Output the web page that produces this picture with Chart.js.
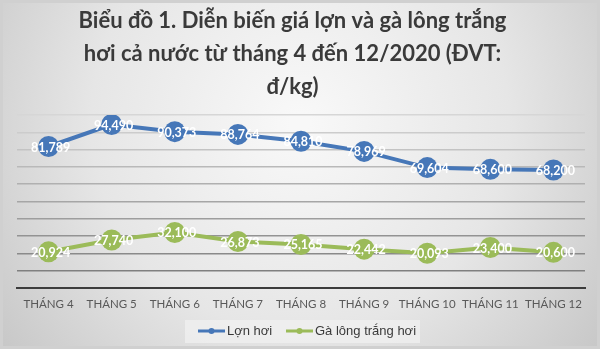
<!DOCTYPE html>
<html>
<head>
<meta charset="utf-8">
<script src="https://cdn.jsdelivr.net/npm/chart.js@4"></script>
<style>
  html, body { margin: 0; padding: 0; background: #ffffff; }
  #wrap { width: 600px; height: 349px; position: relative; }
</style>
</head>
<body>
<div id="wrap"><canvas id="c" width="600" height="349"></canvas></div>
<script>
// Monthly categories
const months = ["THÁNG 4", "THÁNG 5", "THÁNG 6", "THÁNG 7", "THÁNG 8", "THÁNG 9", "THÁNG 10", "THÁNG 11", "THÁNG 12"];
// Live pig price (đ/kg)
const pigPrices = [81789, 94490, 90373, 88764, 84810, 78969, 69604, 68600, 68200];
// Live white-feather chicken price (đ/kg)
const chickenPrices = [20924, 27740, 32100, 26873, 25165, 22442, 20093, 23400, 20600];
const seriesNames = ["Lợn hơi", "Gà lông trắng hơi"];
const titleLines = ["Biểu đồ 1. Diễn biến giá lợn và gà lông trắng", "hơi cả nước từ tháng 4 đến 12/2020 (ĐVT:", "đ/kg)"];

const BLUE = "#4677b8";
const GREEN = "#9bbb59";

// Gradient backdrop with a thin frame
const backdrop = {
  id: "backdrop",
  beforeDraw(chart) {
    const ctx = chart.ctx, w = chart.width, h = chart.height;
    ctx.save();
    const g = ctx.createRadialGradient(w * 0.5, h * 0.35, 10, w * 0.5, h * 0.35, w * 0.62);
    g.addColorStop(0, "#f8f8f8");
    g.addColorStop(0.55, "#e6e6e6");
    g.addColorStop(1, "#c8c8c8");
    ctx.fillStyle = g;
    ctx.fillRect(0, 0, w, h);
    ctx.strokeStyle = "#d0d0d0";
    ctx.lineWidth = 3;
    ctx.strokeRect(1.5, 1.5, w - 3, h - 3);
    ctx.restore();
  }
};

// White value labels centred on each marker
const valueLabels = {
  id: "valueLabels",
  afterDatasetsDraw(chart) {
    const ctx = chart.ctx;
    ctx.save();
    ctx.font = "bold 12.5px Lato";
    ctx.fillStyle = "#ffffff";
    ctx.textAlign = "center";
    ctx.textBaseline = "middle";
    chart.data.datasets.forEach((ds, di) => {
      const meta = chart.getDatasetMeta(di);
      meta.data.forEach((pt, i) => {
        ctx.fillText(ds.data[i].toLocaleString("en-US"), pt.x + 2, pt.y + 1);
      });
    });
    ctx.restore();
  }
};

// Legend strip under the axis: line-with-marker swatches
const lineLegend = {
  id: "lineLegend",
  afterDraw(chart) {
    const ctx = chart.ctx;
    ctx.save();
    ctx.fillStyle = "rgba(240,240,240,0.75)";
    ctx.fillRect(185, 320, 235, 23);
    ctx.font = "13px 'Liberation Sans'";
    ctx.textBaseline = "middle";
    const items = [
      { x: 198, color: BLUE, text: seriesNames[0] },
      { x: 286, color: GREEN, text: seriesNames[1] }
    ];
    const y = 331;
    items.forEach(it => {
      ctx.strokeStyle = it.color;
      ctx.lineWidth = 3;
      ctx.beginPath();
      ctx.moveTo(it.x, y);
      ctx.lineTo(it.x + 27, y);
      ctx.stroke();
      ctx.fillStyle = it.color;
      ctx.beginPath();
      ctx.arc(it.x + 13.5, y, 3, 0, Math.PI * 2);
      ctx.fill();
      ctx.fillStyle = "#3a3a3a";
      ctx.textAlign = "left";
      ctx.fillText(it.text, it.x + 29, y);
    });
    ctx.restore();
  }
};

function gridShade(ctx) {
  const i = ctx.index;
  if (i === 0) return "rgba(0,0,0,0)";
  const t = (i - 1) / 9;
  const v = Math.round(0x80 + t * (0xd6 - 0x80));
  return `rgb(${v},${v},${v})`;
}

new Chart(document.getElementById("c"), {
  type: "line",
  data: {
    labels: months,
    datasets: [
      {
        label: seriesNames[0],
        data: pigPrices,
        borderColor: BLUE,
        backgroundColor: BLUE,
        borderWidth: 4,
        pointRadius: 10.5,
        pointBorderWidth: 0,
        pointHoverRadius: 10.5,
        tension: 0
      },
      {
        label: seriesNames[1],
        data: chickenPrices,
        borderColor: GREEN,
        backgroundColor: GREEN,
        borderWidth: 4,
        pointRadius: 10.5,
        pointBorderWidth: 0,
        pointHoverRadius: 10.5,
        tension: 0
      }
    ]
  },
  options: {
    responsive: false,
    animation: false,
    devicePixelRatio: 1,
    layout: { padding: { left: 0, right: 15, top: 0, bottom: 0 } },
    plugins: {
      legend: { display: false },
      tooltip: { enabled: false },
      title: {
        display: true,
        text: titleLines,
        color: "#3a3a3a",
        font: { family: "Lato", size: 22, weight: "bold", lineHeight: 1.5 },
        padding: { top: 4, bottom: 12 }
      }
    },
    scales: {
      x: {
        offset: true,
        grid: { display: false, drawTicks: false },
        border: { display: true, color: "#3c3c3c", width: 2 },
        ticks: {
          color: "#595959",
          font: { family: "Lato", size: 11.5 },
          padding: 9,
          maxRotation: 0,
          autoSkip: false
        },
        afterFit(scale) { scale.height = 61; }
      },
      y: {
        min: 0,
        max: 100000,
        ticks: { display: false, stepSize: 10000 },
        border: { display: false },
        grid: { color: gridShade, lineWidth: 1.5, drawTicks: false },
        afterFit(scale) { scale.width = 17; }
      }
    }
  },
  plugins: [backdrop, valueLabels, lineLegend]
});
</script>
</body>
</html>
